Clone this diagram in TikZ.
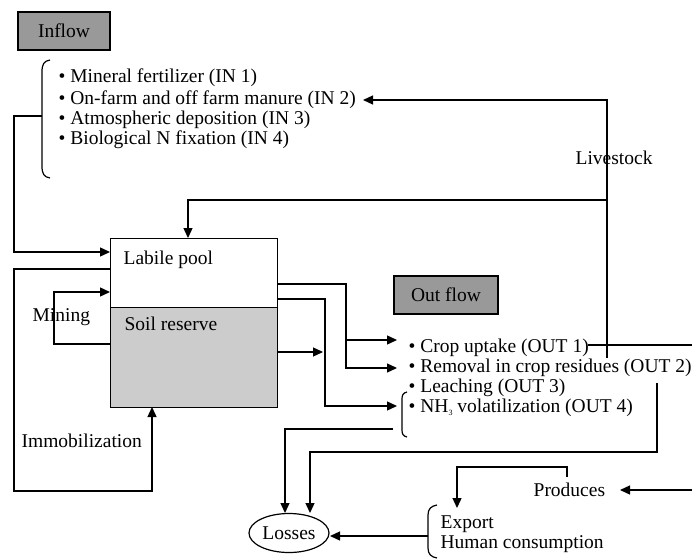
\documentclass[tikz,border=0pt]{standalone}
\usepackage{fontspec}
\setmainfont{Liberation Serif}
\usetikzlibrary{arrows.meta,shapes.geometric}
\begin{document}
\begin{tikzpicture}[x=1pt,y=-1pt,
  line width=1.3pt,
  >={Triangle[length=10pt,width=9pt]},
  txt/.style={inner sep=0pt, anchor=base west, font=\fontsize{19.5}{22}\selectfont},
  graybox/.style={draw, line width=1.6pt, fill=black!40, inner sep=0pt, font=\fontsize{19.5}{22}\selectfont},
  poolbox/.style={draw, line width=1.3pt, inner sep=0pt, anchor=north west, minimum width=167pt}]
\useasboundingbox (0,0) rectangle (692,559);

% header boxes
\node[graybox, minimum width=92pt, minimum height=38pt] (inflowbox) at (64,31) {Inflow};
\node[graybox, minimum width=104pt, minimum height=38pt] (outflowbox) at (446,295) {Out flow};

% pool boxes
\node[poolbox, minimum height=69pt] (lp) at (110,238) {};
\node[poolbox, minimum height=100pt, fill=black!20] (sr) at (110,307) {};
\node[txt] (lplbl) at (123,264) {Labile pool};
\node[txt] (srlbl) at (124,330) {Soil reserve};

% inflow list
\node[txt] (in1) at (58,83) {\textbullet\ Mineral fertilizer (IN 1)};
\node[txt] (in2) at (58,104) {\textbullet\ On-farm and off farm manure (IN 2)};
\node[txt] (in3) at (58,124) {\textbullet\ Atmospheric deposition (IN 3)};
\node[txt] (in4) at (58,144) {\textbullet\ Biological N fixation (IN 4)};
\draw[line width=1.2pt] (50,60) .. controls (44,61) and (42,64) .. (42,72) -- (42,166) .. controls (42,174) and (44,177) .. (50,178);
\coordinate (inbr) at (42,116);

% outflow list
\node[txt] (out1) at (408,352) {\textbullet\ Crop uptake (OUT 1)};
\node[txt] (out2) at (408,372) {\textbullet\ Removal in crop residues (OUT 2)};
\node[txt] (out3) at (408,392) {\textbullet\ Leaching (OUT 3)};
\node[txt] (out4) at (408,412) {\textbullet\ NH\raisebox{-0.35ex}{\fontsize{8}{9}\selectfont 3} volatilization (OUT 4)};
\draw[line width=1.2pt] (407,392) .. controls (403,393) and (402,395) .. (402,399) -- (402,430) .. controls (402,434) and (403,436) .. (407,437);
\coordinate (outbr) at (393,429);

% other labels
\node[txt] (mining) at (32,321) {Mining};
\node[txt] (immob) at (21,447) {Immobilization};
\node[txt] (livestock) at (575,164) {Livestock};
\node[txt] (produces) at (533,496) {Produces};
\node[txt] (export) at (440,528) {Export};
\node[txt] (human) at (440,548) {Human consumption};
\draw[line width=1.2pt] (437,505) .. controls (431,506) and (428,509) .. (428,515) -- (428,548) .. controls (428,554) and (431,557) .. (437,558);
\coordinate (exbr) at (428,536);
\node[draw, ellipse, line width=1.2pt, minimum width=80pt, minimum height=39pt, inner sep=0pt,
      font=\fontsize{19.5}{22}\selectfont] (losses) at (289,533) {Losses};

% livestock connectors
\coordinate (lsbot) at (607,358);
\coordinate (lsmid) at (607,200);
\coordinate (lstop) at (607,100);
\draw[->] (lsbot) -- (lstop) -- (363,100);
\draw[->] (lsmid) -- (188,200) -- (188,238);

% inflow to labile pool
\draw[->] (inbr) -- (14,116) -- (14,252) -- (110,252);

% immobilization and mining
\draw[->] (110,269) -- (14,269) -- (14,491) -- (152,491) -- (152,407);
\draw[->] (110,344) -- (54,344) -- (54,292) -- (110,292);

% outflows from pool
\draw[->] (277,284) -- (346,284) -- (346,368) -- (397,368);
\draw[->] (346,340) -- (397,340);
\draw[->] (277,299) -- (325,299) -- (325,406) -- (397,406);
\draw[->] (277,352) -- (323,352);

% to losses
\draw[->] (outbr) -- (285,429) -- (285,513);
\draw[->] (657,383) -- (657,452) -- (310,452) -- (310,513);
\draw[->] (exbr) -- (330,536);

% crop uptake / produces
\draw (588,345) -- (692,345);
\draw[->] (692,490) -- (620,490);
\draw[->] (567,477) -- (567,467) -- (457,467) -- (457,508);
\end{tikzpicture}
\end{document}
